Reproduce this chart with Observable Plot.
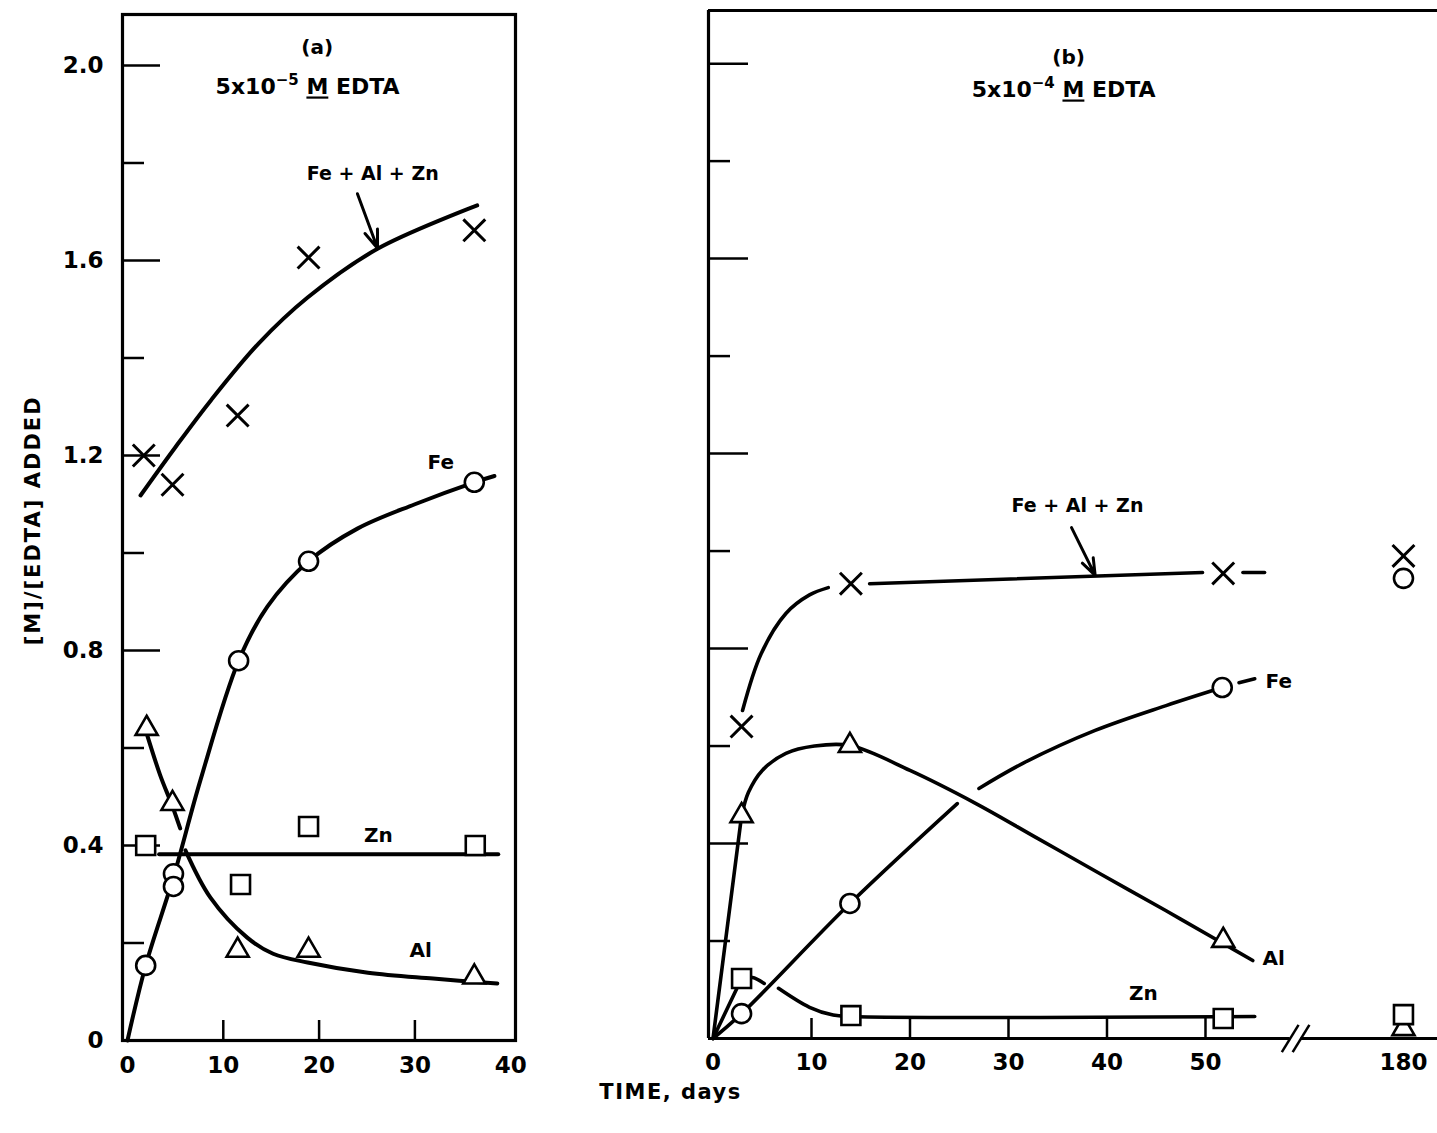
<!DOCTYPE html>
<html><head><meta charset="utf-8">
<script src="https://cdn.jsdelivr.net/npm/d3@7"></script>
<script src="https://cdn.jsdelivr.net/npm/@observablehq/plot@0.6"></script>
<style>
html,body{margin:0;padding:0;background:#fff;overflow:hidden;}
#wrap{position:relative;width:1437px;height:1133px;overflow:hidden;background:#fff;}
#wrap svg{position:absolute;top:0;}
</style></head><body><div id="wrap"></div>
<script>
// ---------- axis ticks ----------
const yTickVals = [0, 0.4, 0.8, 1.2, 1.6, 2.0];
const yTickLabels = ["0", "0.4", "0.8", "1.2", "1.6", "2.0"];
const yMajorTicks = [0.4, 0.8, 1.2, 1.6, 2.0];
const yMinorTicks = [0.2, 0.6, 1.0, 1.4, 1.8];
const aXTickVals = [0, 10, 20, 30, 40];
const aXInner = [10, 20, 30];
const bXTickVals = [0, 10, 20, 30, 40, 50, 180];
const bXInner = [10, 20, 30, 40, 50];

// ---------- panel (a): 5x10^-5 M EDTA  [day, M/EDTA] ----------
const aTotalPts = [[1.7, 1.20], [4.7, 1.14], [11.5, 1.282], [18.9, 1.606], [36.2, 1.662]];
const aFePts = [[1.9, 0.154], [4.8, 0.342], [4.8, 0.316], [11.6, 0.779], [18.9, 0.983], [36.2, 1.145]];
const aAlPts = [[2.0, 0.64], [4.7, 0.486], [11.5, 0.185], [18.9, 0.185], [36.2, 0.13]];
const aZnPts = [[1.9, 0.40], [11.8, 0.32], [18.9, 0.439], [36.3, 0.40]];

const aTotalCurve = [[[1.36, 1.118], [5.0, 1.217], [8.7, 1.313], [13.7, 1.43], [18.8, 1.524], [26.1, 1.624], [36.5, 1.713]]];
const aFeCurve = [[[0, 0], [1.9, 0.154], [4.8, 0.335], [7.6, 0.533], [11.6, 0.779], [14.6, 0.89], [18.9, 0.983], [24.0, 1.05], [30.0, 1.10], [36.2, 1.145], [38.3, 1.158]]];
const aAlCurve = [
  [[2.0, 0.63], [3.4, 0.545], [4.7, 0.48], [5.5, 0.435]],
  [[6.05, 0.39], [8.66, 0.293], [12.5, 0.211], [15.2, 0.178], [18.8, 0.16], [25.1, 0.139], [31.9, 0.127], [38.6, 0.117]]
];
const aZnCurve = [[[3.3, 0.382], [38.7, 0.382]]];

// ---------- panel (b): 5x10^-4 M EDTA ----------
const bTotalPts = [[2.9, 0.64], [14.0, 0.933], [51.8, 0.954], [180, 0.99]];
const bFePts = [[2.9, 0.051], [13.9, 0.277], [51.7, 0.72], [180, 0.944]];
const bAlPts = [[2.9, 0.457], [13.9, 0.601], [51.8, 0.201], [180, 0.02]];
const bZnPts = [[2.9, 0.123], [14.0, 0.047], [51.8, 0.041], [180, 0.049]];

const bTotalCurve = [
  [[3.0, 0.673], [4.9, 0.79], [7.4, 0.872], [9.8, 0.91], [11.7, 0.925]],
  [[15.9, 0.933], [49.7, 0.956]],
  [[53.8, 0.956], [56.0, 0.956]]
];
const bFeCurve = [
  [[0, 0], [2.9, 0.051], [13.9, 0.277], [24.8, 0.482]],
  [[27.0, 0.513], [31.5, 0.565], [38.8, 0.632], [46.0, 0.683], [51.7, 0.72]],
  [[53.4, 0.73], [55.0, 0.738]]
];
const bAlCurve = [
  [[0, 0], [2.9, 0.457]],
  [[2.9, 0.457], [3.6, 0.505], [5.0, 0.55], [7.4, 0.585], [10.3, 0.60], [13.9, 0.601], [20.0, 0.55], [26.7, 0.482], [33.0, 0.41], [39.3, 0.338], [46.0, 0.262], [51.8, 0.195], [54.8, 0.16]]
];
const bZnCurve = [
  [[0, 0], [2.9, 0.123]],
  [[2.9, 0.123], [4.0, 0.125], [5.2, 0.113]],
  [[6.65, 0.103], [9.8, 0.064], [12.2, 0.048], [14.0, 0.045], [55.0, 0.045]]
];

// ---------- annotations ----------
const aNotes = [
  {x: 19.8, y: 2.037, text: "(a)", size: 20},
  {x: 18.8, y: 1.955, text: "5x10-5 M EDTA", size: 22},
  {x: 25.6, y: 1.778, text: "Fe + Al + Zn", size: 19},
  {x: 32.7, y: 1.186, text: "Fe", size: 20},
  {x: 26.2, y: 0.421, text: "Zn", size: 20},
  {x: 30.6, y: 0.185, text: "Al", size: 20}
];
const aArrow = [{x1: 24.0, y1: 1.737, x2: 26.1, y2: 1.625}];
const bNotes = [
  {x: 36.1, y: 2.012, text: "(b)", size: 20, anchor: "middle"},
  {x: 35.6, y: 1.945, text: "5x10-4 M EDTA", size: 22, anchor: "middle"},
  {x: 37.0, y: 1.093, text: "Fe + Al + Zn", size: 19, anchor: "middle"},
  {x: 56.1, y: 0.732, text: "Fe", size: 20, anchor: "start"},
  {x: 55.8, y: 0.164, text: "Al", size: 20, anchor: "start"},
  {x: 43.7, y: 0.092, text: "Zn", size: 20, anchor: "middle"}
];
const bArrow = [{x1: 36.4, y1: 1.048, x2: 38.8, y2: 0.95}];
const bAxisBreak = [{c: 58.6}, {c: 59.7}];

// ---------- helpers ----------
const FONT = "DejaVu Sans";
const bx = d => d < 100 ? d : 70.1 + (d - 180) * 0.1; // broken time axis
const segRows = (segs, tx = d => d) => segs.flatMap((s, i) => s.map(([d, v]) => ({x: tx(d), y: v, seg: i})));
const ptRows = (pts, tx = d => d) => pts.map(([d, v]) => ({x: tx(d), y: v}));

function curveMarks(list, tx, sw) {
  return list.map(c => Plot.line(segRows(c, tx), {x: "x", y: "y", z: "seg", curve: "catmull-rom", stroke: "black", strokeWidth: sw, strokeLinecap: "round", strokeLinejoin: "round"}));
}
function markerMarks(total, fe, al, zn, tx) {
  return [
    Plot.dot(ptRows(total, tx), {x: "x", y: "y", symbol: "times", r: 10, stroke: "black", strokeWidth: 3}),
    Plot.dot(ptRows(fe, tx), {x: "x", y: "y", symbol: "circle", r: 9.5, fill: "white", stroke: "black", strokeWidth: 2.6}),
    Plot.dot(ptRows(al, tx), {x: "x", y: "y", symbol: "triangle", r: 8.2, fill: "white", stroke: "black", strokeWidth: 2.6}),
    Plot.dot(ptRows(zn, tx), {x: "x", y: "y", symbol: "square", r: 10.7, fill: "white", stroke: "black", strokeWidth: 2.6})
  ];
}
function noteMarks(notes) {
  return notes.map(n => Plot.text([n], {x: "x", y: "y", text: "text", fontSize: n.size, fontWeight: "bold", fontFamily: FONT, textAnchor: n.anchor || "middle", fill: "black"}));
}
function decorate(svg) {
  d3.select(svg).selectAll("text").each(function () {
    const t = this.textContent;
    const m = t.match(/^5x10(-\d) M EDTA$/);
    const el = d3.select(this);
    if (m) {
      el.text("");
      el.append("tspan").text("5x10");
      el.append("tspan").attr("dy", -9).attr("font-size", 15).text(m[1].replace("-", "\u2212"));
      el.append("tspan").attr("dy", 9).text("\u00A0");
      el.append("tspan").style("text-decoration", "underline").text("M");
      el.append("tspan").text("\u00A0EDTA");
    }
    if (t === "TIME, days") el.style("letter-spacing", "1.5px");
    if (t === "[M]/[EDTA] ADDED") el.style("letter-spacing", "2px");
  });
  return svg;
}
const svgStyle = {background: "transparent", maxWidth: "none", overflow: "visible", fontFamily: FONT};

// ---------- panel (a) ----------
const A = {W: 560, H: 1133, ML: 122, MR: 45, MT: 14, MB: 93};
const aFW = A.W - A.ML - A.MR, aFH = A.H - A.MT - A.MB;
const aX = [-0.52, 40.5], aY = [0, 2.1046];
const svgA = Plot.plot({
  width: A.W, height: A.H, marginLeft: A.ML, marginRight: A.MR, marginTop: A.MT, marginBottom: A.MB,
  x: {domain: aX, axis: null}, y: {domain: aY, axis: null},
  style: svgStyle,
  marks: [
    Plot.ruleY(yMajorTicks, {insetRight: aFW - 38, stroke: "black", strokeWidth: 2.5}),
    Plot.ruleY(yMinorTicks, {insetRight: aFW - 22, stroke: "black", strokeWidth: 2.5}),
    Plot.ruleX(aXInner, {insetTop: aFH - 20, stroke: "black", strokeWidth: 2.5}),
    Plot.frame({stroke: "black", strokeWidth: 3.2}),
    ...curveMarks([aTotalCurve, aFeCurve, aAlCurve, aZnCurve], d => d, 4),
    ...markerMarks(aTotalPts, aFePts, aAlPts, aZnPts, d => d),
    Plot.arrow(aArrow, {x1: "x1", y1: "y1", x2: "x2", y2: "y2", stroke: "black", strokeWidth: 3, headLength: 14, headAngle: 40}),
    ...noteMarks(aNotes),
    Plot.text(yTickVals, {x: aX[0], y: d => d, text: (d, i) => yTickLabels[i], textAnchor: "end", dx: -19, fontSize: 23, fontWeight: "bold", fontFamily: FONT}),
    Plot.text(aXTickVals, {x: d => d, y: 0, text: d => String(d), dy: 25, fontSize: 23, fontWeight: "bold", fontFamily: FONT}),
    Plot.text(["[M]/[EDTA] ADDED"], {x: -9.81, y: 1.067, text: d => d, rotate: -90, fontSize: 21, fontWeight: "bold", fontFamily: FONT})
  ]
});
svgA.style.left = "0px";
document.getElementById("wrap").appendChild(decorate(svgA));

// ---------- panel (b) ----------
const B = {L: 560, W: 920, H: 1133, ML: 148, MR: 20, MT: 10, MB: 95};
const bFW = B.W - B.ML - B.MR, bFH = B.H - B.MT - B.MB;
const bX = [-0.457, 75.89], bY = [0, 2.109];
const svgB = Plot.plot({
  width: B.W, height: B.H, marginLeft: B.ML, marginRight: B.MR, marginTop: B.MT, marginBottom: B.MB,
  x: {domain: bX, axis: null}, y: {domain: bY, axis: null},
  style: svgStyle,
  marks: [
    Plot.ruleY(yMajorTicks, {insetRight: bFW - 40, stroke: "black", strokeWidth: 2.5}),
    Plot.ruleY(yMinorTicks, {insetRight: bFW - 22, stroke: "black", strokeWidth: 2.5}),
    Plot.ruleX(bXInner, {insetTop: bFH - 20, stroke: "black", strokeWidth: 2.5}),
    Plot.ruleX([bX[0]], {stroke: "black", strokeWidth: 3.2}),
    Plot.ruleY([bY[1]], {stroke: "black", strokeWidth: 3.2}),
    Plot.ruleY([0], {x1: bX[0], x2: bAxisBreak[0].c, stroke: "black", strokeWidth: 3.2}),
    Plot.ruleY([0], {x1: bAxisBreak[1].c, x2: 80, stroke: "black", strokeWidth: 3.2}),
    Plot.link(bAxisBreak, {x1: d => d.c - 0.85, y1: -0.028, x2: d => d.c + 0.85, y2: 0.028, stroke: "black", strokeWidth: 2.5}),
    ...curveMarks([bTotalCurve, bFeCurve, bAlCurve, bZnCurve], bx, 3.6),
    ...markerMarks(bTotalPts, bFePts, bAlPts, bZnPts, bx),
    Plot.arrow(bArrow, {x1: "x1", y1: "y1", x2: "x2", y2: "y2", stroke: "black", strokeWidth: 3, headLength: 14, headAngle: 40}),
    ...noteMarks(bNotes),
    Plot.text(bXTickVals, {x: d => bx(d), y: 0, text: d => String(d), dy: 24, fontSize: 23, fontWeight: "bold", fontFamily: FONT}),
    Plot.text(["TIME, days"], {x: -4.31, y: -0.111, text: d => d, fontSize: 21, fontWeight: "bold", fontFamily: FONT})
  ]
});
svgB.style.left = B.L + "px";
document.getElementById("wrap").appendChild(decorate(svgB));
</script>
</body></html>
